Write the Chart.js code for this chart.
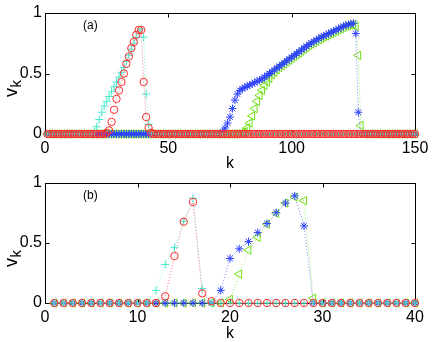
<!DOCTYPE html>
<html>
<head>
<meta charset="utf-8">
<script src="https://cdn.jsdelivr.net/npm/chart.js@4.4.0/dist/chart.umd.min.js"></script>
<style>
  body { margin: 0; background: #fff; }
  canvas { position: absolute; left: 0; }
  #chartA { top: 0; }
  #chartB { top: 170px; }
</style>
</head>
<body>
<canvas id="chartA" width="436" height="170"></canvas>
<canvas id="chartB" width="436" height="172"></canvas>
<script>
// panel (a): k = 1..150
const cyanA = [
  0,0,0,0,0,0,0,0,0,0,
  0,0,0,0,0,0,0,0,0,0.02,
  0.06,0.12,0.18,0.23,0.27,0.31,0.35,0.39,0.43,0.47,
  0.51,0.55,0.60,0.65,0.70,0.75,0.80,0.85,0.87,0.80,
  0.33,0.08,0.01,0,0,0,0,0,0,0,
  0,0,0,0,0,0,0,0,0,0,
  0,0,0,0,0,0,0,0,0,0,
  0,0,0,0,0,0,0,0,0,0,
  0,0,0,0,0,0,0,0,0,0,
  0,0,0,0,0,0,0,0,0,0,
  0,0,0,0,0,0,0,0,0,0,
  0,0,0,0,0,0,0,0,0,0,
  0,0,0,0,0,0,0,0,0,0,
  0,0,0,0,0,0,0,0,0,0,
  0,0,0,0,0,0,0,0,0,0
];
const redA = [
  0,0,0,0,0,0,0,0,0,0,
  0,0,0,0,0,0,0,0,0,0,
  0,0,0,0,0.01,0.03,0.10,0.20,0.29,0.36,
  0.43,0.50,0.58,0.64,0.71,0.76,0.82,0.86,0.86,0.43,
  0.14,0.05,0.01,0,0,0,0,0,0,0,
  0,0,0,0,0,0,0,0,0,0,
  0,0,0,0,0,0,0,0,0,0,
  0,0,0,0,0,0,0,0,0,0,
  0,0,0,0,0,0,0,0,0,0,
  0,0,0,0,0,0,0,0,0,0,
  0,0,0,0,0,0,0,0,0,0,
  0,0,0,0,0,0,0,0,0,0,
  0,0,0,0,0,0,0,0,0,0,
  0,0,0,0,0,0,0,0,0,0,
  0,0,0,0,0,0,0,0,0,0
];
const blueA = [
  0,0,0,0,0,0,0,0,0,0,
  0,0,0,0,0,0,0,0,0,0,
  0,0,0,0,0,0,0,0,0,0,
  0,0,0,0,0,0,0,0,0,0,
  0,0,0,0,0,0,0,0,0,0,
  0,0,0,0,0,0,0,0,0,0,
  0,0,0,0,0,0,0,0,0,0,
  0,0.02,0.05,0.09,0.14,0.21,0.28,0.33,0.36,0.375,
  0.385,0.395,0.405,0.415,0.425,0.435,0.445,0.455,0.47,0.485,
  0.50,0.515,0.53,0.545,0.56,0.575,0.59,0.605,0.62,0.635,
  0.65,0.665,0.68,0.695,0.71,0.725,0.74,0.752,0.765,0.777,
  0.789,0.80,0.81,0.82,0.83,0.84,0.85,0.86,0.87,0.88,
  0.89,0.90,0.905,0.91,0.915,0.83,0.18,0,0,0,
  0,0,0,0,0,0,0,0,0,0,
  0,0,0,0,0,0,0,0,0,0
];
const greenA = [
  0,0,0,0,0,0,0,0,0,0,
  0,0,0,0,0,0,0,0,0,0,
  0,0,0,0,0,0,0,0,0,0,
  0,0,0,0,0,0,0,0,0,0,
  0,0,0,0,0,0,0,0,0,0,
  0,0,0,0,0,0,0,0,0,0,
  0,0,0,0,0,0,0,0,0,0,
  0,0,0,0,0,0,0,0,0,0.01,
  0.02,0.05,0.09,0.15,0.21,0.27,0.32,0.36,0.40,0.43,
  0.46,0.49,0.51,0.53,0.55,0.565,0.58,0.595,0.61,0.625,
  0.64,0.655,0.67,0.685,0.70,0.715,0.73,0.742,0.755,0.767,
  0.779,0.79,0.80,0.81,0.82,0.83,0.84,0.85,0.86,0.87,
  0.88,0.89,0.895,0.90,0.905,0.89,0.65,0.07,0,0,
  0,0,0,0,0,0,0,0,0,0,
  0,0,0,0,0,0,0,0,0,0
];

// panel (b): k = 1..40
const cyanB = [
  0,0,0,0,0,0,0,0,0,0,
  0,0.105,0.32,0.46,0.68,0.87,0.12,0,0,0,
  0,0,0,0,0,0,0,0,0,0,
  0,0,0,0,0,0,0,0,0,0
];
const redB = [
  0,0,0,0,0,0,0,0,0,0,
  0,0,0.055,0.39,0.675,0.84,0.08,0.015,0,0,
  0,0,0,0,0,0,0,0,0,0,
  0,0,0,0,0,0,0,0,0,0
];
const blueB = [
  0,0,0,0,0,0,0,0,0,0,
  0,0,0,0,0,0,0,0,0.105,0.37,
  0.45,0.51,0.585,0.66,0.75,0.83,0.89,0.64,0,0,
  0,0,0,0,0,0,0,0,0,0
];
const greenB = [
  0,0,0,0,0,0,0,0,0,0,
  0,0,0,0,0,0,0,0,0,0.03,
  0.24,0.44,0.545,0.655,0.745,0.83,0.88,0.85,0.04,0,
  0,0,0,0,0,0,0,0,0,0
];

const yTicks = [0, 0.5, 1];
const xTicksA = [0, 50, 100, 150];
const xTicksB = [0, 10, 20, 30, 40];

const FONT = '"Liberation Sans", Arial, Helvetica, sans-serif';

function series(vals, color, lineColor, style, radius, rot) {
  return {
    data: vals.map((v, i) => ({ x: i + 1, y: v })),
    borderColor: lineColor,
    borderWidth: 1,
    borderDash: [1, 2],
    pointStyle: style,
    pointRadius: radius,
    pointRotation: rot || 0,
    pointBorderColor: color,
    pointBackgroundColor: 'rgba(0,0,0,0)',
    pointBorderWidth: 1,
    tension: 0,
    fill: false,
    clip: false
  };
}

const framePlugin = {
  id: 'frame',
  beforeDatasetsDraw(chart) {
    const { ctx, chartArea: a, scales: { x, y } } = chart;
    ctx.save();
    ctx.strokeStyle = '#000';
    ctx.lineWidth = 1;
    const L = Math.round(a.left) + 0.5, R = Math.round(a.right) + 0.5;
    const T = Math.round(a.top) + 0.5, B = Math.round(a.bottom) + 0.5;
    ctx.strokeRect(L, T, R - L, B - T);
    ctx.beginPath();
    x.ticks.forEach(t => {
      const px = Math.round(x.getPixelForValue(t.value)) + 0.5;
      ctx.moveTo(px, B); ctx.lineTo(px, B - 4);
      ctx.moveTo(px, T); ctx.lineTo(px, T + 4);
    });
    y.ticks.forEach(t => {
      const py = Math.round(y.getPixelForValue(t.value)) + 0.5;
      ctx.moveTo(L, py); ctx.lineTo(L + 4, py);
      ctx.moveTo(R, py); ctx.lineTo(R - 4, py);
    });
    ctx.stroke();
    ctx.restore();
  },
  afterDraw(chart, args, opts) {
    const { ctx, chartArea: a } = chart;
    ctx.save();
    ctx.fillStyle = '#000';
    // y label v_k
    ctx.save();
    ctx.translate(17, 97);
    ctx.rotate(-Math.PI / 2);
    ctx.textAlign = 'left';
    ctx.textBaseline = 'alphabetic';
    ctx.font = '18px ' + FONT;
    ctx.fillText('v', 0, 0);
    const w = ctx.measureText('v').width;
    ctx.font = '15px ' + FONT;
    ctx.fillText('k', w + 0.5, 4);
    ctx.restore();
    // x label
    ctx.textAlign = 'center';
    ctx.textBaseline = 'alphabetic';
    ctx.font = '16px ' + FONT;
    ctx.fillText('k', (a.left + a.right) / 2, 167.5);
    // panel letter
    ctx.textAlign = 'left';
    ctx.font = '12px ' + FONT;
    ctx.fillText(opts.letter, 83, 29);
    ctx.restore();
  }
};

function makePanel(id, cyan, red, blue, green, xTicks, top, xHeight, letter) {
  const xMax = xTicks[xTicks.length - 1];
  return new Chart(document.getElementById(id), {
    type: 'line',
    data: {
      datasets: [
        series(red, 'rgb(255,45,45)', 'rgba(255,110,110,0.9)', 'circle', 3.7),
        series(cyan, 'rgb(70,235,205)', 'rgba(120,240,220,0.9)', 'cross', 4),
        series(blue, 'rgb(45,65,255)', 'rgba(110,125,255,0.9)', 'star', 4),
        series(green, 'rgb(110,225,20)', 'rgba(150,235,90,0.9)', 'triangle', 4.8, -90)
      ]
    },
    options: {
      responsive: false,
      animation: false,
      devicePixelRatio: 1,
      events: [],
      layout: { padding: { top: top, right: 21, left: 0, bottom: 0 } },
      plugins: {
        legend: { display: false },
        tooltip: { enabled: false },
        frame: { letter: letter }
      },
      scales: {
        x: {
          type: 'linear',
          min: 0,
          max: xMax,
          grid: { display: false, drawTicks: false },
          border: { display: false },
          afterBuildTicks: s => { s.ticks = xTicks.map(v => ({ value: v })); },
          afterFit: s => { s.height = xHeight; },
          ticks: { color: '#000', font: { family: FONT, size: 16 }, padding: 5, maxRotation: 0,
                   callback: v => String(v) }
        },
        y: {
          min: 0,
          max: 1,
          grid: { display: false, drawTicks: false },
          border: { display: false },
          afterBuildTicks: s => { s.ticks = yTicks.map(v => ({ value: v })); },
          afterFit: s => { s.width = 45; },
          ticks: { color: '#000', font: { family: FONT, size: 16 }, padding: 3,
                   callback: v => String(v) }
        }
      }
    },
    plugins: [framePlugin]
  });
}

makePanel('chartA', cyanA, redA, blueA, greenA, xTicksA, 13, 36, '(a)');
makePanel('chartB', cyanB, redB, blueB, greenB, xTicksB, 12, 39, '(b)');
</script>
</body>
</html>
